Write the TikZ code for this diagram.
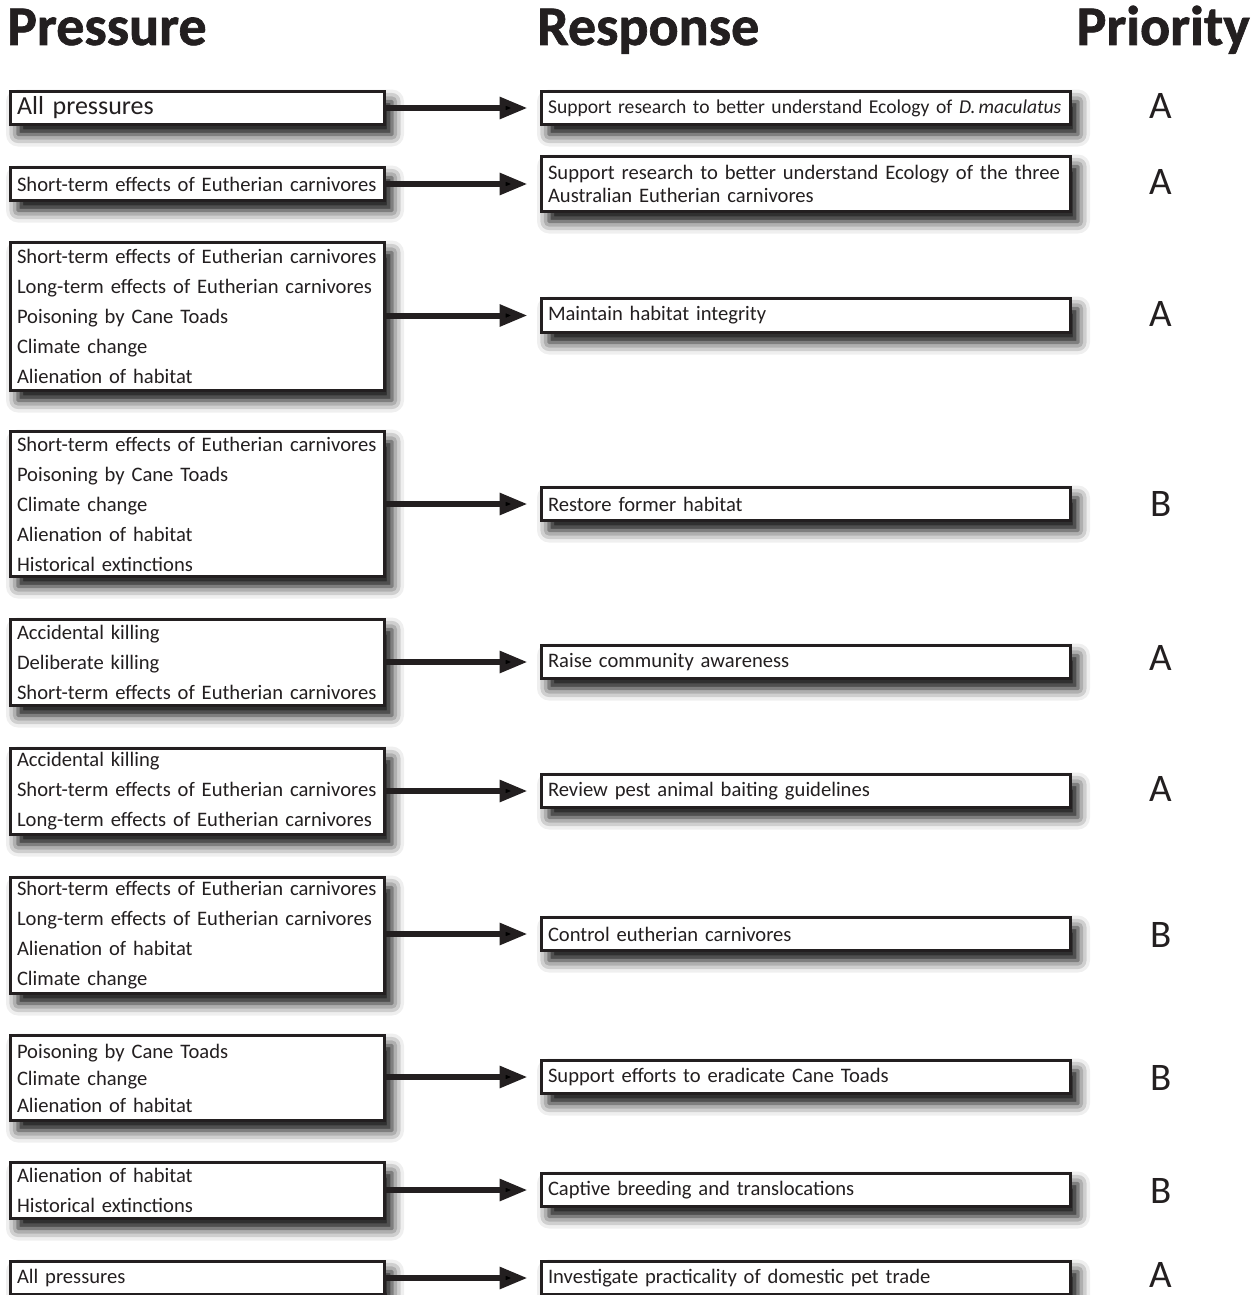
\documentclass[tikz,border=0pt]{standalone}
\usepackage{fontspec}
\setmainfont{Carlito}
\newfontfamily\headfont[BoldFeatures={FakeBold=1.2}]{Carlito}
\usepackage{tikz}
\usetikzlibrary{arrows.meta, shadows.blur}
\definecolor{ink}{HTML}{231F20}

\begin{document}
\begin{tikzpicture}[x=1pt,y=-1pt,>={Triangle[length=28pt,width=21pt]}]
				\tikzstyle{box} = [draw=ink, line width=3pt, fill=white, text=ink, inner xsep=7pt, inner ysep=2pt, align=left, blur shadow={shadow xshift=8pt, shadow yshift=-10pt, shadow blur radius=12pt, shadow opacity=100}]
				\tikzstyle{pressure} = [box, anchor=west, text width=360pt, font=\fontsize{20.6}{30}\selectfont]
				\tikzstyle{response} = [box, anchor=west, text width=515pt, font=\fontsize{20.6}{23}\selectfont]
				\tikzstyle{priority} = [text=ink, inner sep=0pt, font=\fontsize{39}{39}\selectfont]
				\tikzstyle{heading} = [text=ink, inner sep=0pt, font=\fontsize{56}{56}\selectfont\headfont\bfseries]
				\tikzstyle{link} = [->, draw=ink, line width=6pt, shorten >=12pt]

				\useasboundingbox (0,0) rectangle (1256,1295);

				% column heads
				\node[heading, anchor=base west] (hpressure) at (7,45) {Pressure};
				\node[heading, anchor=base west] (hresponse) at (537,45) {Response};
				\node[heading, anchor=base east] (hpriority) at (1250,45) {Priority};

				% pressures
				\node[pressure, minimum height=33pt, font=\fontsize{26}{30}\selectfont] (p1) at (8.5,108) {All pressures};
				\node[pressure, minimum height=33pt] (p2) at (8.5,184) {Short-term effects of Eutherian carnivores};
				\node[pressure, minimum height=148pt] (p3) at (8.5,316.5) {Short-term effects of Eutherian carnivores\\Long-term effects of Eutherian carnivores\\Poisoning by Cane Toads\\Climate change\\Alienation of habitat};
				\node[pressure, minimum height=145pt] (p4) at (8.5,504) {Short-term effects of Eutherian carnivores\\Poisoning by Cane Toads\\Climate change\\Alienation of habitat\\Historical extinctions};
				\node[pressure, minimum height=86pt] (p5) at (8.5,662.5) {Accidental killing\\Deliberate killing\\Short-term effects of Eutherian carnivores};
				\node[pressure, minimum height=86pt] (p6) at (8.5,791.5) {Accidental killing\\Short-term effects of Eutherian carnivores\\Long-term effects of Eutherian carnivores};
				\node[pressure, minimum height=116pt] (p7) at (8.5,935.5) {Short-term effects of Eutherian carnivores\\Long-term effects of Eutherian carnivores\\Alienation of habitat\\Climate change};
				\node[pressure, minimum height=85pt, font=\fontsize{20.6}{27}\selectfont] (p8) at (8.5,1078) {Poisoning by Cane Toads\\Climate change\\Alienation of habitat};
				\node[pressure, minimum height=56pt] (p9) at (8.5,1190.5) {Alienation of habitat\\Historical extinctions};
				\node[pressure, minimum height=33pt] (p10) at (8.5,1278) {All pressures};

				% responses
				\node[response, minimum height=33pt, font=\fontsize{19.6}{23}\selectfont] (r1) at (539.5,108) {Support research to better understand Ecology of \textit{D.\,maculatus}};
				\node[response, minimum height=55pt] (r2) at (539.5,184) {Support research to better understand Ecology of the three\\Australian Eutherian carnivores};
				\node[response, minimum height=34pt] (r3) at (539.5,315.5) {Maintain habitat integrity};
				\node[response, minimum height=33pt] (r4) at (539.5,504) {Restore former habitat};
				\node[response, minimum height=33pt] (r5) at (539.5,662) {Raise community awareness};
				\node[response, minimum height=33pt] (r6) at (539.5,791) {Review pest animal baiting guidelines};
				\node[response, minimum height=33pt] (r7) at (539.5,934) {Control eutherian carnivores};
				\node[response, minimum height=33pt] (r8) at (539.5,1077) {Support efforts to eradicate Cane Toads};
				\node[response, minimum height=33pt] (r9) at (539.5,1190) {Captive breeding and translocations};
				\node[response, minimum height=33pt] (r10) at (539.5,1278) {Investigate practicality of domestic pet trade};

				% priorities
				\node[priority] (a1) at (1161,106) {A};
				\node[priority] (a2) at (1161,182) {A};
				\node[priority] (a3) at (1161,314) {A};
				\node[priority] (a4) at (1161,504) {B};
				\node[priority] (a5) at (1161,658) {A};
				\node[priority] (a6) at (1161,789) {A};
				\node[priority] (a7) at (1161,935) {B};
				\node[priority] (a8) at (1161,1078) {B};
				\node[priority] (a9) at (1161,1191) {B};
				\node[priority] (a10) at (1161,1275) {A};

				\path[link] (p1.east |- r1) edge (r1)
				      (p2.east |- r2) edge (r2)
				      (p3.east |- r3) edge (r3)
				      (p4.east |- r4) edge (r4)
				      (p5.east |- r5) edge (r5)
				      (p6.east |- r6) edge (r6)
				      (p7.east |- r7) edge (r7)
				      (p8.east |- r8) edge (r8)
				      (p9.east |- r9) edge (r9)
				      (p10.east |- r10) edge (r10);
			\end{tikzpicture}
\end{document}
